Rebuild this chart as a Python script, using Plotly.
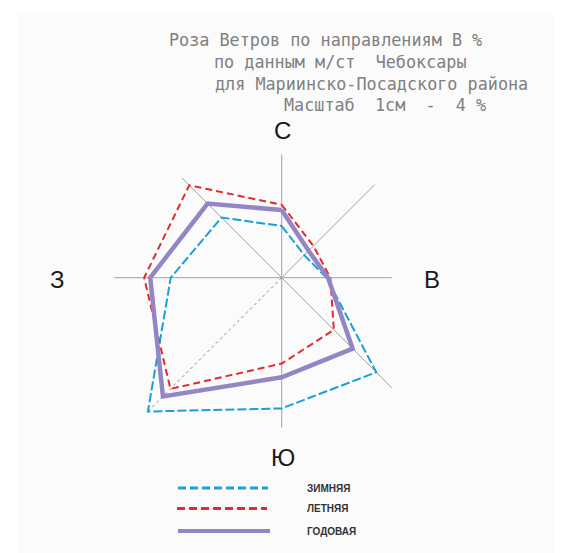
import plotly.graph_objects as go

W, H = 561, 553
OFF = 8  # page body margin of the written html

directions = ["С", "СВ", "В", "ЮВ", "Ю", "ЮЗ", "З", "СЗ"]
angles = [0, 45, 90, 135, 180, 225, 270, 315]

winter = [6.8, 4.2, 5.9, 17.6, 17.2, 24.9, 14.6, 11.2]
summer = [9.6, 5.9, 6.4, 9.7, 11.3, 20.7, 18.1, 17.2]
annual = [8.9, 5.0, 6.1, 13.2, 13.1, 22.1, 17.3, 13.8]

# lengths of the drawn direction guide lines (same % units)
guide_len = [16.2, 17.3, 14.5, 20.5, 19.7, 24.7, 22.0, 18.6]

series_names = ["ЗИМНЯЯ", "ЛЕТНЯЯ", "ГОДОВАЯ"]
title_lines = ["Роза Ветров по направлениям В %",
               "по данным м/ст  Чебоксары",
               "для Мариинско-Посадского района",
               "Масштаб  1см  -  4 %"]
compass_labels = ["С", "В", "Ю", "З"]

PX_PER_UNIT = 7.6
CX, CY = 281.7 - OFF, 277.7 - OFF
RPX = 200.0
RMAX = RPX / PX_PER_UNIT

fig = go.Figure()

# guide lines
for a, L in zip(angles, guide_len):
    sw = (a == 225)
    fig.add_trace(go.Scatterpolar(
        r=[0, L], theta=[a, a], mode="lines",
        line=dict(color="#888888" if sw else "#a0a0a0", width=1,
                  dash="dot" if sw else "solid"),
        hoverinfo="skip", showlegend=False))

styles = [
    (winter, "#1b9fd6", 2, "9px,3px"),
    (summer, "#e42a2a", 2, "7px,4px"),
    (annual, "#9486c4", 4.5, "solid"),
]
for (vals, col, wd, dash), name in zip(styles, series_names):
    fig.add_trace(go.Scatterpolar(
        r=vals + [vals[0]], theta=angles + [angles[0]], mode="lines",
        line=dict(color=col, width=wd, dash=dash),
        name=name, showlegend=False))

dom_x = [(CX - RPX) / W, (CX + RPX) / W]
dom_y = [((H - CY) - RPX) / H, ((H - CY) + RPX) / H]

fig.update_layout(
    width=W, height=H,
    margin=dict(l=0, r=0, t=0, b=0),
    paper_bgcolor="white",
    plot_bgcolor="rgba(0,0,0,0)",
    polar=dict(
        domain=dict(x=dom_x, y=dom_y),
        bgcolor="rgba(0,0,0,0)",
        radialaxis=dict(range=[0, RMAX], visible=False, showgrid=False),
        angularaxis=dict(direction="clockwise", rotation=90, visible=False,
                         showgrid=False, showline=False),
    ),
)

def px(x):
    return (x - OFF) / W

def py(y):
    return 1 - (y - OFF) / H

shapes = [dict(type="rect", xref="paper", yref="paper",
               x0=px(17), x1=1, y0=0, y1=py(13),
               fillcolor="#fbfbfb", line=dict(width=0), layer="below")]

# legend samples
leg_y = [488, 508.5, 531]
leg_x0 = [178, 177, 178]
leg_x1 = [268, 267, 270]
for (vals, col, wd, dash), y, x0, x1 in zip(styles, leg_y, leg_x0, leg_x1):
    shapes.append(dict(type="line", xref="paper", yref="paper",
                       x0=px(x0), x1=px(x1), y0=py(y), y1=py(y),
                       line=dict(color=col, width=3 if dash != "solid" else 4,
                                 dash="8px,4px" if dash != "solid" else "solid")))

annotations = []
title_x = [167, 212, 213, 282]
title_y = [40, 62, 83.5, 105]
for t, x, y in zip(title_lines, title_x, title_y):
    annotations.append(dict(text=t, x=px(x), y=py(y), xref="paper", yref="paper",
                            xanchor="left", yanchor="middle", showarrow=False,
                            font=dict(family="DejaVu Sans Mono", size=16.8,
                                      color="#808080")))

comp_pos = [(282, 131), (432, 279), (283, 457), (57, 279)]
for t, (x, y) in zip(compass_labels, comp_pos):
    annotations.append(dict(text=t, x=px(x), y=py(y), xref="paper", yref="paper",
                            xanchor="center", yanchor="middle", showarrow=False,
                            font=dict(family="Liberation Sans", size=24,
                                      color="#1a1a1a")))

for name, y in zip(series_names, leg_y):
    annotations.append(dict(text="<b>" + name + "</b>", x=px(305), y=py(y),
                            xref="paper", yref="paper", xanchor="left",
                            yanchor="middle", showarrow=False,
                            font=dict(family="Liberation Sans", size=10,
                                      color="#333333")))

fig.update_layout(shapes=shapes, annotations=annotations)
fig.write_html("out.html")
